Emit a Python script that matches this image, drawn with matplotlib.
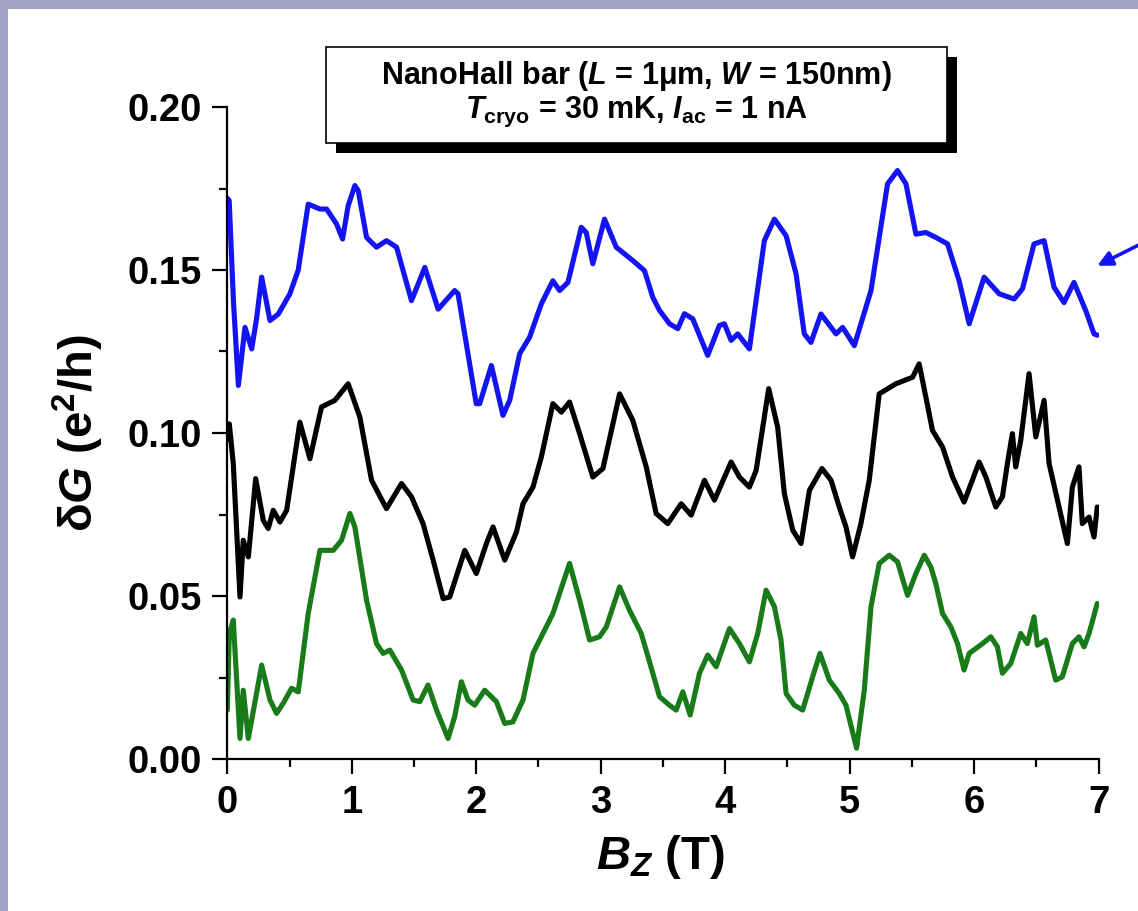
import matplotlib
matplotlib.use("Agg")
import matplotlib.pyplot as plt
from matplotlib.patches import Rectangle
from matplotlib.ticker import MultipleLocator, FormatStrFormatter

plt.rcParams['font.family'] = ['Liberation Sans', 'DejaVu Sans']
plt.rcParams['font.weight'] = 'bold'
plt.rcParams['mathtext.fontset'] = 'custom'
plt.rcParams['mathtext.rm'] = 'Liberation Sans:bold'
plt.rcParams['mathtext.it'] = 'Liberation Sans:italic:bold'
plt.rcParams['mathtext.bf'] = 'Liberation Sans:bold'

# ---------------- data ----------------
blue_B = [0.0, 0.015, 0.05, 0.089, 0.142, 0.196, 0.235, 0.276, 0.343, 0.41, 0.503, 0.57,
          0.65, 0.744, 0.798, 0.878, 0.926, 0.971, 1.025, 1.052, 1.119, 1.199, 1.279,
          1.36, 1.48, 1.587, 1.694, 1.827, 1.854, 2.0, 2.028, 2.122, 2.215, 2.269,
          2.349, 2.429, 2.523, 2.616, 2.67, 2.737, 2.844, 2.884, 2.937, 3.031, 3.125,
          3.258, 3.352, 3.419, 3.473, 3.553, 3.62, 3.673, 3.74, 3.86, 3.954, 3.994,
          4.048, 4.101, 4.195, 4.315, 4.396, 4.49, 4.57, 4.636, 4.69, 4.77, 4.891,
          4.944, 5.038, 5.172, 5.305, 5.385, 5.453, 5.533, 5.613, 5.693, 5.787, 5.88,
          5.961, 6.081, 6.202, 6.322, 6.389, 6.482, 6.563, 6.643, 6.723, 6.803, 6.897,
          6.964, 6.99]
blue_G = [0.172, 0.1713, 0.140, 0.1146, 0.1324, 0.1258, 0.135, 0.1478, 0.1345, 0.1365,
          0.1427, 0.150, 0.1702, 0.1687, 0.1687, 0.1641, 0.1595, 0.1697, 0.1759, 0.1743,
          0.160, 0.157, 0.159, 0.157, 0.1406, 0.1508, 0.138, 0.1437, 0.1427, 0.109,
          0.109, 0.1207, 0.1054, 0.110, 0.1243, 0.1294, 0.1396, 0.1467, 0.1437, 0.1462,
          0.1631, 0.1615, 0.1519, 0.1656, 0.157, 0.1529, 0.1498, 0.1416, 0.1376, 0.1335,
          0.132, 0.1366, 0.135, 0.1238, 0.133, 0.1335, 0.1284, 0.1304, 0.1258, 0.159,
          0.1656, 0.1605, 0.1488, 0.1304, 0.1278, 0.1365, 0.1304, 0.1324, 0.1268, 0.1437,
          0.1764, 0.1805, 0.1764, 0.161, 0.1615, 0.160, 0.158, 0.1467, 0.1335, 0.1478,
          0.1427, 0.1411, 0.1442, 0.158, 0.159, 0.1447, 0.140, 0.1462, 0.1376, 0.1304,
          0.130]

black_B = [0.0, 0.016, 0.048, 0.102, 0.128, 0.169, 0.228, 0.289, 0.329, 0.369, 0.423,
           0.477, 0.583, 0.664, 0.757, 0.864, 0.971, 1.065, 1.159, 1.279, 1.40, 1.48,
           1.573, 1.654, 1.734, 1.787, 1.908, 2.001, 2.082, 2.135, 2.229, 2.323, 2.376,
           2.456, 2.523, 2.616, 2.684, 2.75, 2.831, 2.937, 3.018, 3.152, 3.258, 3.366,
           3.446, 3.539, 3.647, 3.727, 3.834, 3.914, 4.048, 4.115, 4.195, 4.249, 4.35,
           4.422, 4.476, 4.543, 4.61, 4.677, 4.778, 4.851, 4.917, 4.971, 5.024, 5.091,
           5.158, 5.238, 5.372, 5.506, 5.559, 5.613, 5.666, 5.747, 5.827, 5.92, 6.041,
           6.095, 6.175, 6.228, 6.268, 6.308, 6.335, 6.375, 6.442, 6.496, 6.563, 6.603,
           6.683, 6.75, 6.79, 6.843, 6.87, 6.924, 6.964, 6.99]
black_G = [0.098, 0.1028, 0.0906, 0.0497, 0.0671, 0.062, 0.086, 0.0732, 0.0707, 0.0763,
           0.0727, 0.0763, 0.1033, 0.0921, 0.108, 0.110, 0.1151, 0.1049, 0.0855, 0.0768,
           0.0845, 0.0804, 0.0722, 0.061, 0.0492, 0.0497, 0.064, 0.0569, 0.0661, 0.0712,
           0.061, 0.0696, 0.0783, 0.0834, 0.0926, 0.109, 0.1064, 0.1095, 0.0998, 0.0865,
           0.0891, 0.112, 0.1039, 0.0896, 0.0753, 0.0722, 0.0783, 0.0748, 0.0855, 0.0794,
           0.0911, 0.0865, 0.0834, 0.0885, 0.1136, 0.1018, 0.0814, 0.0702, 0.0661, 0.0824,
           0.0891, 0.0855, 0.0773, 0.0712, 0.062, 0.0722, 0.0855, 0.112, 0.1151, 0.1171,
           0.1212, 0.111, 0.1008, 0.0957, 0.0865, 0.0788, 0.0911, 0.0865, 0.0773, 0.0804,
           0.0906, 0.0998, 0.0896, 0.0977, 0.1182, 0.0988, 0.110, 0.0906, 0.0773, 0.0661,
           0.0834, 0.0896, 0.0722, 0.0742, 0.0681, 0.0773]

green_B = [0.0, 0.016, 0.048, 0.102, 0.128, 0.169, 0.276, 0.343, 0.396, 0.449, 0.517,
           0.57, 0.65, 0.744, 0.851, 0.918, 0.985, 1.025, 1.119, 1.199, 1.252, 1.306,
           1.40, 1.493, 1.547, 1.613, 1.681, 1.774, 1.827, 1.881, 1.934, 1.988, 2.068,
           2.162, 2.229, 2.295, 2.376, 2.456, 2.523, 2.616, 2.75, 2.831, 2.911, 2.991,
           3.045, 3.152, 3.232, 3.326, 3.419, 3.473, 3.553, 3.607, 3.66, 3.719, 3.794,
           3.86, 3.928, 4.035, 4.115, 4.195, 4.262, 4.329, 4.396, 4.449, 4.49, 4.556,
           4.623, 4.703, 4.762, 4.837, 4.917, 4.971, 5.056, 5.118, 5.172, 5.238, 5.319,
           5.385, 5.466, 5.533, 5.6, 5.653, 5.693, 5.747, 5.814, 5.867, 5.92, 5.961,
           6.068, 6.135, 6.188, 6.228, 6.295, 6.375, 6.428, 6.482, 6.509, 6.576, 6.656,
           6.709, 6.79, 6.843, 6.884, 6.924, 6.99]
green_G = [0.015, 0.0385, 0.0426, 0.0063, 0.0211, 0.0063, 0.0288, 0.0181, 0.014, 0.0171,
           0.0217, 0.0206, 0.0446, 0.064, 0.064, 0.0671, 0.0753, 0.0712, 0.0487, 0.0354,
           0.0324, 0.0334, 0.0273, 0.0181, 0.0176, 0.0227, 0.015, 0.0063, 0.013, 0.0237,
           0.0181, 0.0165, 0.0211, 0.0176, 0.0109, 0.0114, 0.0181, 0.0324, 0.0375, 0.0446,
           0.060, 0.0487, 0.0365, 0.0375, 0.0405, 0.0528, 0.0456, 0.0385, 0.0263, 0.0191,
           0.0165, 0.015, 0.0206, 0.0135, 0.0263, 0.0319, 0.0283, 0.040, 0.0354, 0.0298,
           0.0385, 0.0518, 0.0467, 0.0365, 0.0201, 0.0165, 0.015, 0.0252, 0.0324, 0.0242,
           0.0201, 0.0165, 0.0033, 0.0211, 0.0467, 0.060, 0.0625, 0.0605, 0.0502, 0.0569,
           0.0625, 0.0589, 0.0538, 0.0446, 0.0405, 0.0354, 0.0273, 0.0324, 0.0354, 0.0375,
           0.0344, 0.0263, 0.0293, 0.0385, 0.0354, 0.0436, 0.0349, 0.0365, 0.0242, 0.0252,
           0.0354, 0.0375, 0.0344, 0.0385, 0.0477]

x_ticks = [0, 1, 2, 3, 4, 5, 6, 7]
y_ticks = [0.00, 0.05, 0.10, 0.15, 0.20]
box_line1 = 'NanoHall bar ($L$ = 1μm, $W$ = 150nm)'
box_line2 = '$T_{\\mathrm{cryo}}$ = 30 mK, $I_{\\mathrm{ac}}$ = 1 nA'

# ---------------- figure ----------------
W, H = 1138, 911
fig = plt.figure(figsize=(W / 100, H / 100), dpi=100)
fig.patch.set_facecolor('#a2a2c8')
fig.patches.append(Rectangle((8 / W, 0), 1, (H - 9) / H, transform=fig.transFigure,
                             facecolor='white', edgecolor='none', zorder=-10))

ax = fig.add_axes([227.3 / W, 1 - 759 / H, (1098.5 - 227.3) / W, (759 - 107) / H])
ax.set_facecolor('none')
ax.set_zorder(1)

lw = 3.7
ax.plot(blue_B, blue_G, color='#1414f2', lw=lw, solid_joinstyle='round',
        solid_capstyle='round')
ax.plot(black_B, black_G, color='black', lw=lw, solid_joinstyle='round',
        solid_capstyle='round')
ax.plot(green_B, green_G, color='#187a18', lw=lw, solid_joinstyle='round',
        solid_capstyle='round')

ax.set_xlim(0, 7)
ax.set_ylim(0, 0.20)
ax.set_xticks(x_ticks)
ax.set_yticks(y_ticks)
ax.xaxis.set_minor_locator(MultipleLocator(0.5))
ax.yaxis.set_minor_locator(MultipleLocator(0.025))
ax.yaxis.set_major_formatter(FormatStrFormatter('%.2f'))
for s in ['top', 'right']:
    ax.spines[s].set_visible(False)
for s in ['left', 'bottom']:
    ax.spines[s].set_linewidth(1.6)
ax.tick_params(which='major', length=11, width=1.6, labelsize=27.5)
ax.tick_params(axis='y', which='major', pad=7)
ax.tick_params(axis='x', which='major', pad=8)
ax.tick_params(which='minor', length=6, width=1.6)
for t in ax.get_xticklabels() + ax.get_yticklabels():
    t.set_fontweight('bold')

ax.set_xlabel('$B_{Z}$ (T)', fontsize=34, fontweight='bold', va='center')
ax.xaxis.set_label_coords(0.497, -0.150)
ax.set_ylabel('δ$G$ (e$^{2}$/h)', fontsize=34, fontweight='bold', va='center')
ax.yaxis.set_label_coords(-0.171, 0.50)

# annotation box with shadow
bx0, bx1, by0, by1 = 326, 947, 47, 143
fig.patches.append(Rectangle(((bx0 + 10) / W, 1 - (by1 + 10) / H), (bx1 - bx0) / W,
                             (by1 - by0) / H, transform=fig.transFigure,
                             facecolor='black', edgecolor='none', zorder=3))
fig.patches.append(Rectangle((bx0 / W, 1 - by1 / H), (bx1 - bx0) / W, (by1 - by0) / H,
                             transform=fig.transFigure, facecolor='white',
                             edgecolor='black', lw=1.2, zorder=4))
cx = (bx0 + bx1) / 2 / W
fig.text(cx, 1 - 84 / H, box_line1, ha='center', va='baseline', fontsize=22,
         fontweight='bold', zorder=5)
fig.text(cx, 1 - 118 / H, box_line2, ha='center', va='baseline', fontsize=22,
         fontweight='bold', zorder=5)

# blue arrow pointing at the blue curve
ax.annotate('', xy=(6.99, 0.1513), xytext=(7.33, 0.1578),
            arrowprops=dict(arrowstyle='-|>', color='#1414f2', lw=2.6, mutation_scale=22,
                            shrinkA=0, shrinkB=0),
            annotation_clip=False)

fig.savefig('out.png', dpi=100)
